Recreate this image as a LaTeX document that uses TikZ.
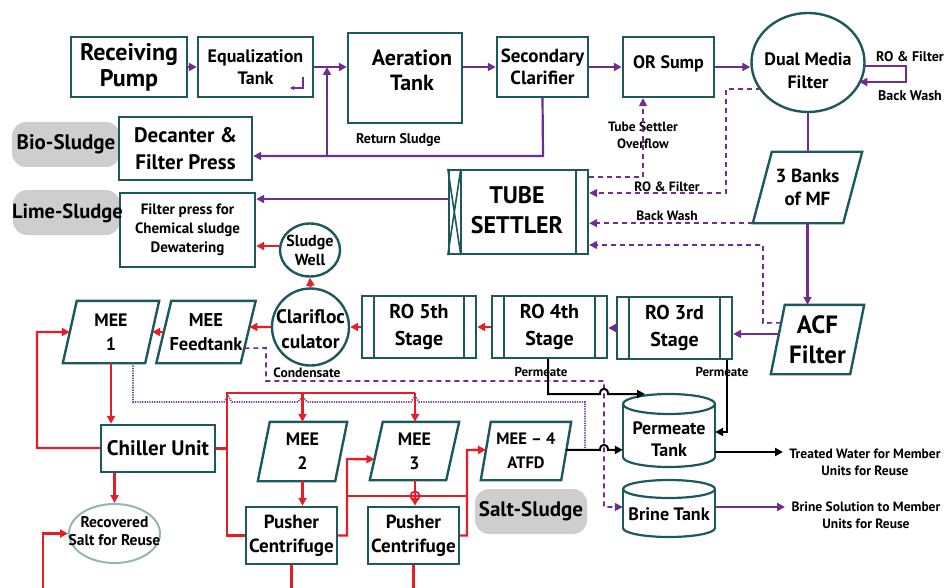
\documentclass[tikz,border=0pt]{standalone}
\usepackage{fontspec}
\setmainfont{PT Sans}
\usetikzlibrary{arrows.meta,calc,shapes.geometric}
\definecolor{tl}{RGB}{28,88,92}
\definecolor{pu}{RGB}{110,45,145}
\definecolor{rd}{RGB}{228,30,38}
\definecolor{gr}{RGB}{206,206,206}
\definecolor{sl}{RGB}{150,180,180}
\newcommand\myfs[2]{\fontsize{#1}{#2}\selectfont}
\newcommand\mypara[2]{\draw[tl,line width=2.4,line join=miter] (#1.south west) -- ([xshift=#2]#1.north west) -- (#1.north east) -- ([xshift=-#2]#1.south east) -- cycle;}
\newcommand\mybars[2]{\draw[tl,line width=2.4] ([xshift=#2]#1.north west) -- ([xshift=#2]#1.south west) ([xshift=-#2]#1.north east) -- ([xshift=-#2]#1.south east);}
\begin{document}
\begin{tikzpicture}[x=1pt,y=-1pt,
  box/.style={draw=tl,line width=2.4,fill=white,inner sep=0pt,align=center},
  lbl/.style={inner sep=0pt,align=center},
  sm/.style={inner sep=0pt,align=center,font=\bfseries\myfs{13.5}{17}},
  gbox/.style={fill=gr,rounded corners=14pt,inner sep=0pt,align=center},
  arr/.style={-{Triangle[length=8pt,width=8pt]}},
  pl/.style={draw=pu,line width=2.2},
  rl/.style={draw=rd,line width=2.4},
  bl/.style={draw=black,line width=2},
  dl/.style={draw=pu,line width=1.6,dash pattern=on 5pt off 4pt},
  dt/.style={draw=pu!70!gray,line width=1.7,dash pattern=on 1.2pt off 1.2pt}]
\useasboundingbox (0,0) rectangle (947,588);
\coordinate (bot) at (0,588);
% ---------- gray labels
\node[gbox,minimum width=108,minimum height=45,font=\bfseries\myfs{21}{22}] (bio) at (66,144.5) {Bio-Sludge};
\node[gbox,minimum width=107,minimum height=45] (lime) at (66.5,212.5) {};
\node[gbox,minimum width=112,minimum height=45,font=\bfseries\myfs{21}{22}] (salt) at (531,511.5) {Salt-Sludge};
% ---------- top row
\node[box,minimum width=116,minimum height=60,font=\bfseries\myfs{24}{26}] (rp) at (129,67) {Receiving\\Pump};
\node[box,minimum width=115,minimum height=60,font=\bfseries\myfs{18}{22}] (eq) at (255.5,67) {Equalization\\Tank};
\node[box,minimum width=114,minimum height=90] (aer) at (405,78) {};
\node[lbl,font=\bfseries\myfs{22}{25}] (aerT) at (412,70) {Aeration\\Tank};
\node[box,minimum width=91,minimum height=60,font=\bfseries\myfs{19}{22}] (sec) at (542.5,67) {Secondary\\Clarifier};
\node[box,minimum width=91,minimum height=60] (ors) at (668.5,67) {};
\node[lbl,font=\bfseries\myfs{18}{22}] (orsT) at (668.5,64) {OR Sump};
\node[ellipse,draw=tl,line width=2.4,minimum width=113,minimum height=99,inner sep=0pt] (dmf) at (808,62.5) {};
\node[lbl,font=\bfseries\myfs{18}{23}] (dmfT) at (808,71) {Dual Media\\Filter};
\node[sm,font=\bfseries\myfs{14}{17}] (rfA) at (910,57) {RO \& Filter};
\node[sm,font=\bfseries\myfs{14}{17}] (bwA) at (910,96) {Back Wash};
\draw[pu,line width=1.2,-{Triangle[length=4pt,width=4pt]}] (303,77) -- (303,88) -- (290,88);
% ---------- second row
\node[box,minimum width=133,minimum height=63,font=\bfseries\myfs{21}{27}] (dec) at (185.5,148.5) {Decanter \&\\Filter Press};
\node[box,minimum width=135,minimum height=74,font=\bfseries\myfs{15}{19}] (fp) at (187.5,230) {Filter press for\\Chemical sludge\\Dewatering};
\node[lbl,font=\bfseries\myfs{20.5}{22}] (limeT) at (67.5,213) {Lime-Sludge};
\node[box,minimum width=139,minimum height=84] (ts) at (518.5,212) {};
\mybars{ts}{13}
\draw[tl,line width=1.6] (ts.north west) -- ([xshift=13]ts.south west) ([xshift=13]ts.north west) -- (ts.south west);
\node[lbl,font=\bfseries\myfs{24}{30}] (tsT) at (517,210) {TUBE\\SETTLER};
\node[lbl,minimum width=109,minimum height=71,font=\bfseries\myfs{19}{23}] (mf) at (807.5,187.5) {3 Banks\\of MF};
\mypara{mf}{19}
\node[ellipse,draw=tl,line width=2.4,minimum width=60,minimum height=53,inner sep=0pt] (sw) at (310,250) {};
\node[lbl,font=\bfseries\myfs{16}{19}] (swT) at (310,250) {Sludge\\Well};
% ---------- RO row
\node[circle,draw=tl,line width=2.4,minimum size=77,inner sep=0pt] (cl) at (310.5,327) {};
\node[lbl,font=\bfseries\myfs{19.5}{25}] (clT) at (310.5,329) {Clarifloc\\culator};
\node[box,minimum width=114,minimum height=62,font=\bfseries\myfs{20}{27}] (ro5) at (419,327) {RO 5th\\Stage};
\mybars{ro5}{13}
\node[box,minimum width=115,minimum height=62,font=\bfseries\myfs{20}{27}] (ro4) at (549.5,327) {RO 4th\\Stage};
\mybars{ro4}{13}
\node[box,minimum width=115,minimum height=62,font=\bfseries\myfs{20}{27}] (ro3) at (674.5,328) {RO 3rd\\Stage};
\mybars{ro3}{13}
\node[lbl,minimum width=93,minimum height=69,font=\bfseries\myfs{25}{30}] (acf) at (817.5,339.5) {ACF\\Filter};
\mypara{acf}{14}
\node[lbl,minimum width=96,minimum height=62,font=\bfseries\myfs{18}{24}] (mee1) at (111,332) {MEE\\1};
\mypara{mee1}{14}
\node[lbl,minimum width=99,minimum height=62,font=\bfseries\myfs{18.5}{24}] (ft) at (206,332) {MEE\\Feedtank};
\mypara{ft}{15}
% ---------- bottom
\node[box,minimum width=114,minimum height=47,font=\bfseries\myfs{21}{22}] (chil) at (158,448.5) {Chiller Unit};
\node[ellipse,draw=sl,line width=2,minimum width=91,minimum height=59,inner sep=0pt] (rs) at (114.5,533.5) {};
\node[lbl,font=\bfseries\myfs{15.5}{18}] (rsT) at (114.5,531) {Recovered\\Salt for Reuse};
\node[lbl,minimum width=89,minimum height=59,font=\bfseries\myfs{18}{24}] (mee2) at (302.5,451.5) {MEE\\2};
\mypara{mee2}{12}
\node[lbl,minimum width=89,minimum height=58,font=\bfseries\myfs{18}{24}] (mee3) at (414.5,451) {MEE\\3};
\mypara{mee3}{13}
\node[lbl,minimum width=90,minimum height=58,font=\bfseries\myfs{16.5}{24}] (mee4) at (526,451) {MEE – 4\\ATFD};
\mypara{mee4}{10}
\node[box,minimum width=91,minimum height=57,font=\bfseries\myfs{19}{24}] (p1) at (291.5,535.5) {Pusher\\Centrifuge};
\node[box,minimum width=91,minimum height=57,font=\bfseries\myfs{19}{24}] (p2) at (413.5,535.5) {Pusher\\Centrifuge};
% tanks
\draw[tl,line width=2.2,fill=white] (669,457) ellipse[x radius=46,y radius=10];
\fill[white] (623,404) rectangle (715,457);
\draw[tl,line width=2.2] (623,404) -- (623,457) (715,404) -- (715,457);
\draw[tl,line width=2.2,fill=white] (669,404) ellipse[x radius=46,y radius=10];
\node[lbl,minimum width=92,minimum height=73] (pt) at (669,430.5) {};
\node[lbl,font=\bfseries\myfs{18}{22}] (ptT) at (669,439) {Permeate\\Tank};
\draw[tl,line width=2.2,fill=white] (669,528) ellipse[x radius=46,y radius=9];
\fill[white] (623,489) rectangle (715,528);
\draw[tl,line width=2.2] (623,489) -- (623,528) (715,489) -- (715,528);
\draw[tl,line width=2.2,fill=white] (669,489) ellipse[x radius=46,y radius=9];
\node[lbl,minimum width=92,minimum height=57] (bt) at (669,508.5) {};
\node[lbl,font=\bfseries\myfs{18}{22}] (btT) at (669,514) {Brine Tank};
% ---------- text labels
\node[sm,font=\bfseries\myfs{14}{17}] (rsl) at (398.5,140) {Return Sludge};
\node[sm] (tsl) at (643,135.5) {Tube Settler\\Overflow};
\node[sm] (rfl) at (667,187) {RO \& Filter};
\node[sm] (bwl) at (667,216) {Back Wash};
\node[sm] (cdl) at (307,373) {Condensate};
\node[sm,font=\bfseries\myfs{13}{16}] (pml1) at (541,372) {Permeate};
\node[sm,font=\bfseries\myfs{13}{16}] (pml2) at (722,372) {Permeate};
\node[sm] (twl) at (865,462.5) {Treated Water for Member\\Units for Reuse};
\node[sm] (bsl) at (866,515.5) {Brine Solution to Member\\Units for Reuse};
% ---------- edge points on slanted shapes
\coordinate (acfL) at ($(acf.south west)!0.58!([xshift=14]acf.north west)$);
\coordinate (acfL2) at ($(acf.south west)!0.74!([xshift=14]acf.north west)$);
\coordinate (ftR) at ($([xshift=-15]ft.south east)!0.58!(ft.north east)$);
\coordinate (ftR2) at ($([xshift=-15]ft.south east)!0.24!(ft.north east)$);
\coordinate (ftL) at ($(ft.south west)!0.5!([xshift=15]ft.north west)$);
\coordinate (mee1R) at ($([xshift=-14]mee1.south east)!0.5!(mee1.north east)$);
\coordinate (mee1L) at ($(mee1.south west)!0.5!([xshift=14]mee1.north west)$);
\coordinate (m3L) at ($(mee3.south west)!0.36!([xshift=13]mee3.north west)$);
\coordinate (m4L) at ($(mee4.south west)!0.52!([xshift=10]mee4.north west)$);
\coordinate (m4R) at ($([xshift=-10]mee4.south east)!0.52!(mee4.north east)$);
% ---------- purple top flow
\draw[pl,arr] (rp.east) -- (eq.west);
\draw[pl,arr] (eq.east) -- (aer.west |- eq.east);
\draw[pl,arr] (aer.east |- sec.west) -- (sec.west);
\draw[pl,arr] (sec.east) -- (ors.west);
\draw[pl,arr] (ors.east) -- (dmf.west |- ors.east);
\coordinate (rj) at (543,156);
\coordinate (rk) at (327,156);
\draw[pl,arr] (sec.south) -- (rj) -- (rj -| dec.east);
\draw[pl,arr] (rk) -- (rk |- eq.east);
\coordinate (lp1) at (906,66);
\coordinate (lp2) at (906,82);
\draw[pl,arr] ($(dmf.center)+(55.8,3.5)$) -- (lp1) -- (lp2) -- ($(dmf.center)+(51.3,19.5)$);
\draw[pl] (dmf.south) -- (dmf.south |- mf.north);
\draw[pl,arr] (mf.south) -- (mf.south |- acf.north);
\draw[pl,arr] (acfL) -- (acfL -| ro3.east);
\draw[pl,arr] (ro3.west) -- (ro3.west -| ro4.east);
\draw[pl,arr] ([yshift=13pt]ts.west) -- ([yshift=13pt]ts.west -| fp.east);
% ---------- red RO chain
\draw[rl,arr] (ro4.west) -- (ro4.west -| ro5.east);
\draw[rl,arr] (ro5.west) -- (ro5.west -| cl.east);
\draw[rl,arr] (cl.west) -- (ftR);
\draw[rl,arr] (ftL) -- (mee1R);
\draw[rl,arr] (cl.north) -- (sw.south);
\draw[rl,arr] ([yshift=4pt]sw.west) -- ([yshift=4pt]sw.west -| fp.east);
% ---------- dashed lines
\coordinate (tso) at (643,177);
\draw[dl,arr] (tso -| ts.east) -- (tso) -- (tso |- ors.south);
\coordinate (rf1) at (726,89);
\coordinate (rf2) at (726,193);
\draw[dl,arr] ($(dmf.center)+(-47.1,26.5)$) -- (rf1) -- (rf2) -- (rf2 -| ts.east);
\draw[dl,arr] (mf.south west) -- (mf.south west -| ts.east);
\coordinate (ac1) at (763,323);
\coordinate (ac2) at (763,245);
\draw[dl,arr] (acfL2) -- (ac1) -- (ac2) -- (ac2 -| ts.east);
\coordinate (cd1) at (266,348);
\coordinate (cd2) at (266,381);
\coordinate (cd3) at (604,381);
\coordinate (cd4) at (604,507);
\draw[dl,arr] (ftR2) -- (cd1) -- (cd2) -- (cd3) -- (cd4) -- (cd4 -| bt.west);
% ---------- dotted
\coordinate (d1) at (133,402);
\draw[dt] (mee1.south -| d1) -- (d1) -- (224,402) -- (228,396) -- (232,402) -- (298,402) -- (302.5,396) -- (307,402) -- (411,402) -- (415,396) -- (419,402) -- (585,402) -- (585,450);
% ---------- black permeate
\coordinate (pm1) at (548,394);
\coordinate (pin) at (645,394);
\draw[bl,arr] (ro4.south -| pm1) -- (pm1) -- (600,394) .. controls (600,387) and (608,387) .. (608,394) -- (pin);
\coordinate (pm2) at (727,432);
\draw[bl,arr] (ro3.south -| pm2) -- (pm2) -- (pm2 -| pt.east);
\draw[bl,arr] (m4R) -- (600,450) .. controls (600,443) and (608,443) .. (608,450) -- (m4R -| pt.west);
\coordinate (tw) at (783,452);
\draw[bl,arr] (tw -| pt.east) -- (tw);
\coordinate (bs) at (785,507);
\draw[pl,arr] (bs -| bt.east) -- (bs);
% ---------- red bottom network
\coordinate (r1) at (37,448);
\coordinate (r2) at (37,332);
\draw[rl,arr] (chil.west |- r1) -- (r1) -- (r2) -- (mee1L);
\draw[rl,arr] (mee1.south) -- (mee1.south |- chil.north);
\draw[rl,arr] (rs.north |- chil.south) -- (rs.north);
\coordinate (r4) at (227,393);
\coordinate (r5) at (227,535.5);
\coordinate (r6) at (415,393);
\draw[rl] (chil.east) -- (chil.east -| r4);
\draw[rl] (p1.west) -- (r5) -- (r4) -- (r6);
\draw[rl,arr] (mee2.north |- r4) -- (mee2.north);
\draw[rl,arr] (r6) -- (r6 |- mee3.north);
\draw[rl,arr] (mee2.south) -- (mee2.south |- p1.north);
\draw[rl,arr] (r6 |- mee3.south) -- (r6 |- p2.north);
\coordinate (r7) at (347,535.5);
\coordinate (r8) at (347,459);
\draw[rl,arr] (p1.east) -- (r7) -- (r8) -- (m3L);
\coordinate (r9) at (467,535.5);
\coordinate (r10) at (467,450);
\draw[rl,arr] (p2.east) -- (r9) -- (r10) -- (m4L);
\coordinate (br) at (415,496);
\draw[rl] (r8 |- br) -- (r9 |- br);
\draw[rl,line width=1.8] (br) circle[radius=4.5pt];
\draw[rl] (p1.south) -- (p1.south |- bot);
\draw[rl] (p2.south) -- (p2.south |- bot);
\coordinate (r11) at (43,533.5);
\draw[rl,arr] (r11 |- bot) -- (r11) -- (rs.west);
\end{tikzpicture}
\end{document}
